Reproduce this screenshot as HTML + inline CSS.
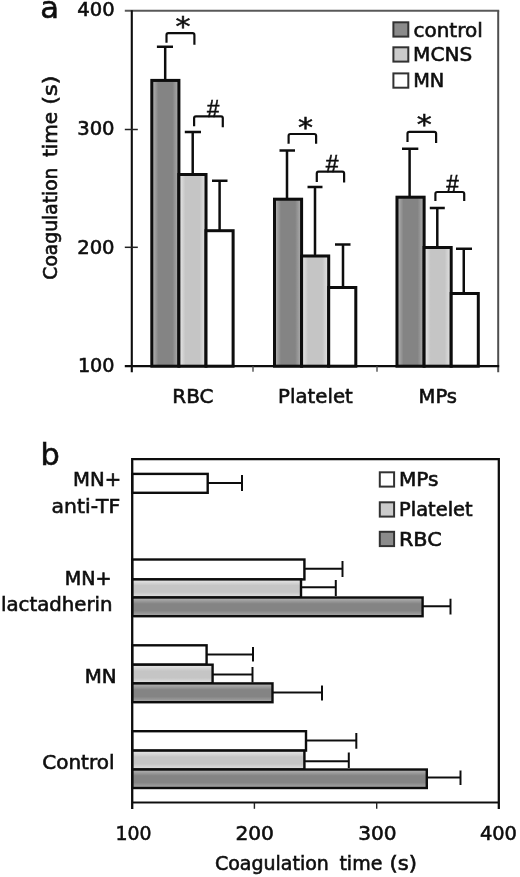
<!DOCTYPE html>
<html lang="en"><head><meta charset="utf-8"><title>Coagulation time</title>
<style>html,body{margin:0;padding:0;background:#fff;}body{width:520px;height:877px;overflow:hidden;}svg{display:block;}text{font-family:"DejaVu Sans", "Liberation Sans", sans-serif;fill:#111;stroke:#111;stroke-width:0.6px;}</style></head><body>
<svg width="520" height="877" viewBox="0 0 520 877">
<defs><linearGradient id="gdh" x1="0" y1="0" x2="1" y2="0"><stop offset="0.05" stop-color="#adadad"/><stop offset="0.24" stop-color="#848484"/><stop offset="0.76" stop-color="#848484"/><stop offset="0.95" stop-color="#a8a8a8"/></linearGradient><linearGradient id="glh" x1="0" y1="0" x2="1" y2="0"><stop offset="0.05" stop-color="#e2e2e2"/><stop offset="0.24" stop-color="#c5c5c5"/><stop offset="0.76" stop-color="#c5c5c5"/><stop offset="0.95" stop-color="#dfdfdf"/></linearGradient><linearGradient id="gdv" x1="0" y1="0" x2="0" y2="1"><stop offset="0.07" stop-color="#adadad"/><stop offset="0.34" stop-color="#848484"/><stop offset="0.7" stop-color="#848484"/><stop offset="0.93" stop-color="#a0a0a0"/></linearGradient><linearGradient id="glv" x1="0" y1="0" x2="0" y2="1"><stop offset="0.07" stop-color="#e2e2e2"/><stop offset="0.34" stop-color="#c5c5c5"/><stop offset="0.7" stop-color="#c5c5c5"/><stop offset="0.93" stop-color="#dcdcdc"/></linearGradient></defs>
<defs><filter id="soft" x="0" y="0" width="520" height="877" filterUnits="userSpaceOnUse"><feGaussianBlur stdDeviation="0.5"/></filter></defs>
<rect x="0" y="0" width="520" height="877" fill="#fff"/>
<g filter="url(#soft)">
<g id="panel-a">
<line x1="124.80000000000001" y1="10.8" x2="499.2" y2="10.8" stroke="#585858" stroke-width="2"/>
<line x1="498.2" y1="10.8" x2="498.2" y2="372.2" stroke="#505050" stroke-width="2"/>
<path d="M165.2 80.4V46.8M156.9 46.8H173" stroke="#111" stroke-width="2.5" fill="none"/>
<path d="M192.7 174.5V132.1M184.8 132.1H201" stroke="#111" stroke-width="2.5" fill="none"/>
<path d="M219.6 230.7V180.8M212 180.8H227.5" stroke="#111" stroke-width="2.5" fill="none"/>
<rect x="151.8" y="80.4" width="27.1" height="285.79999999999995" fill="url(#gdh)" stroke="#0a0a0a" stroke-width="3"/>
<rect x="178.9" y="174.5" width="27.1" height="191.7" fill="url(#glh)" stroke="#0a0a0a" stroke-width="3"/>
<rect x="206.0" y="230.7" width="27.1" height="135.5" fill="#ffffff" stroke="#0a0a0a" stroke-width="3"/>
<path d="M287 199.2V150.5M279.5 150.5H295" stroke="#111" stroke-width="2.5" fill="none"/>
<path d="M315 256V187M307.5 187H322.5" stroke="#111" stroke-width="2.5" fill="none"/>
<path d="M343 287.5V244.5M335 244.5H350.5" stroke="#111" stroke-width="2.5" fill="none"/>
<rect x="274.5" y="199.2" width="27.1" height="167.0" fill="url(#gdh)" stroke="#0a0a0a" stroke-width="3"/>
<rect x="301.6" y="256" width="27.1" height="110.19999999999999" fill="url(#glh)" stroke="#0a0a0a" stroke-width="3"/>
<rect x="328.7" y="287.5" width="27.1" height="78.69999999999999" fill="#ffffff" stroke="#0a0a0a" stroke-width="3"/>
<path d="M409.6 197.2V148.7M402 148.7H418.3" stroke="#111" stroke-width="2.5" fill="none"/>
<path d="M437.3 247.5V208.1M429.8 208.1H444.8" stroke="#111" stroke-width="2.5" fill="none"/>
<path d="M463.75 293.5V248.75M456 248.75H472" stroke="#111" stroke-width="2.5" fill="none"/>
<rect x="397.0" y="197.2" width="27.1" height="169.0" fill="url(#gdh)" stroke="#0a0a0a" stroke-width="3"/>
<rect x="424.1" y="247.5" width="27.1" height="118.69999999999999" fill="url(#glh)" stroke="#0a0a0a" stroke-width="3"/>
<rect x="451.2" y="293.5" width="27.1" height="72.69999999999999" fill="#ffffff" stroke="#0a0a0a" stroke-width="3"/>
<line x1="131.8" y1="10.3" x2="131.8" y2="372.2" stroke="#111" stroke-width="2.1"/>
<line x1="124.80000000000001" y1="366.2" x2="499.2" y2="366.2" stroke="#111" stroke-width="2.2"/>
<line x1="124.80000000000001" y1="129.5" x2="137.8" y2="129.5" stroke="#222" stroke-width="1.5"/>
<line x1="124.80000000000001" y1="247.3" x2="137.8" y2="247.3" stroke="#222" stroke-width="1.5"/>
<line x1="253" y1="366.2" x2="253" y2="371.7" stroke="#505050" stroke-width="1.4"/>
<line x1="377" y1="366.2" x2="377" y2="371.7" stroke="#505050" stroke-width="1.4"/>
<path d="M166.5 42.8V35.0Q166.5 33.2 168.3 33.2H192.6Q194.4 33.2 194.4 35.0V44.7" stroke="#111" stroke-width="2.2" fill="none"/>
<path d="M194.1 126.2V118.1Q194.1 116.3 195.9 116.3H221.0Q222.8 116.3 222.8 118.1V127.3" stroke="#111" stroke-width="2.2" fill="none"/>
<path d="M288.6 143.8V135.8Q288.6 134 290.40000000000003 134H314.3Q316.1 134 316.1 135.8V143.8" stroke="#111" stroke-width="2.2" fill="none"/>
<path d="M316.8 182V173.4Q316.8 171.6 318.6 171.6H342.3Q344.1 171.6 344.1 173.4V182.5" stroke="#111" stroke-width="2.2" fill="none"/>
<path d="M407.5 142V133.60000000000002Q407.5 131.8 409.3 131.8H434.3Q436.1 131.8 436.1 133.60000000000002V143" stroke="#111" stroke-width="2.2" fill="none"/>
<path d="M435.4 201V193.8Q435.4 192 437.2 192H462.4Q464.2 192 464.2 193.8V201" stroke="#111" stroke-width="2.2" fill="none"/>
<text transform="translate(183 35.6) scale(1 0.87)" font-size="30" text-anchor="middle" stroke-width="1">*</text>
<text transform="translate(305.6 136.8) scale(1 0.87)" font-size="30" text-anchor="middle" stroke-width="1">*</text>
<text transform="translate(424.2 134.1) scale(1 0.87)" font-size="30" text-anchor="middle" stroke-width="1">*</text>
<text transform="translate(207.00 116.60) scale(0.9226 1)" font-size="24" style="font-family:'Liberation Sans',sans-serif" stroke-width="0.7">#</text>
<text transform="translate(325.70 172.10) scale(0.9524 1)" font-size="24" style="font-family:'Liberation Sans',sans-serif" stroke-width="0.7">#</text>
<text transform="translate(446.20 191.60) scale(0.9375 1)" font-size="24" style="font-family:'Liberation Sans',sans-serif" stroke-width="0.7">#</text>
<text transform="translate(77.32 16.30) scale(1.0171 1)" font-size="19.2">400</text>
<text transform="translate(77.23 135.20) scale(1.0197 1)" font-size="19.2">300</text>
<text transform="translate(77.23 254.30) scale(1.0197 1)" font-size="19.2">200</text>
<text transform="translate(77.88 372.00) scale(1.0013 1)" font-size="19.2">100</text>
<text transform="translate(40.36 17.70) scale(1.0213 1)" font-size="30" stroke-width="0.9">a</text>
<text transform="translate(56.70 279.63) rotate(-90) scale(0.9735 1)" font-size="19.2">Coagulation</text>
<text transform="translate(56.70 157.10) rotate(-90) scale(1.0445 1)" font-size="19.2">time</text>
<text transform="translate(56.70 104.69) rotate(-90) scale(1.1684 1)" font-size="19.2">(s)</text>
<text transform="translate(172.31 403.20) scale(1.0372 1)" font-size="19.2">RBC</text>
<text transform="translate(278.12 403.20) scale(1.0278 1)" font-size="19.2">Platelet</text>
<text transform="translate(418.54 403.20) scale(1.0172 1)" font-size="19.2">MPs</text>
<rect x="393.4" y="22.3" width="14.9" height="14.3" fill="#8b8b8b" stroke="#333" stroke-width="2"/>
<rect x="393.4" y="47.3" width="14.9" height="14.3" fill="#cbcbcb" stroke="#333" stroke-width="2"/>
<rect x="393.4" y="73.4" width="14.9" height="14.3" fill="#ffffff" stroke="#333" stroke-width="2"/>
<text transform="translate(413.50 36.50) scale(1.0406 1)" font-size="19.2">control</text>
<text transform="translate(413.10 61.40) scale(1.0439 1)" font-size="19.2">MCNS</text>
<text transform="translate(413.16 86.60) scale(1.0067 1)" font-size="19.2">MN</text>
</g>
<g id="panel-b">
<path d="M207.7 483H242M242 475V491" stroke="#111" stroke-width="2" fill="none"/>
<rect x="132.2" y="473.9" width="75.5" height="18.900000000000034" fill="#ffffff" stroke="#0a0a0a" stroke-width="2.4"/>
<path d="M304.4 568.8H342.5M342.5 561V577" stroke="#111" stroke-width="2" fill="none"/>
<path d="M301 587.3H335.8M335.8 580V596" stroke="#111" stroke-width="2" fill="none"/>
<path d="M422.6 606.3H450.5M450.5 598.8V614.5" stroke="#111" stroke-width="2" fill="none"/>
<rect x="132.2" y="559.5" width="172.2" height="19.899999999999977" fill="#ffffff" stroke="#0a0a0a" stroke-width="2.4"/>
<rect x="132.2" y="579.4" width="168.8" height="18.100000000000023" fill="url(#glv)" stroke="#0a0a0a" stroke-width="2.4"/>
<rect x="132.2" y="597.5" width="290.40000000000003" height="18.700000000000045" fill="url(#gdv)" stroke="#0a0a0a" stroke-width="2.4"/>
<path d="M206.6 654.5H253M253 647V661.5" stroke="#111" stroke-width="2" fill="none"/>
<path d="M212.6 674.5H252.5M252.5 667V682.5" stroke="#111" stroke-width="2" fill="none"/>
<path d="M272.5 692.5H322M322 685.5V700.5" stroke="#111" stroke-width="2" fill="none"/>
<rect x="132.2" y="645.3" width="74.4" height="19.40000000000009" fill="#ffffff" stroke="#0a0a0a" stroke-width="2.4"/>
<rect x="132.2" y="664.7" width="80.4" height="18.699999999999932" fill="url(#glv)" stroke="#0a0a0a" stroke-width="2.4"/>
<rect x="132.2" y="683.4" width="140.3" height="18.800000000000068" fill="url(#gdv)" stroke="#0a0a0a" stroke-width="2.4"/>
<path d="M306 740.5H356.3M356.3 733V748.8" stroke="#111" stroke-width="2" fill="none"/>
<path d="M304.4 761.3H348.8M348.8 752.5V768" stroke="#111" stroke-width="2" fill="none"/>
<path d="M426.8 777.5H460.5M460.5 770.5V785" stroke="#111" stroke-width="2" fill="none"/>
<rect x="132.2" y="731.2" width="173.8" height="19.399999999999977" fill="#ffffff" stroke="#0a0a0a" stroke-width="2.4"/>
<rect x="132.2" y="750.6" width="172.2" height="18.899999999999977" fill="url(#glv)" stroke="#0a0a0a" stroke-width="2.4"/>
<rect x="132.2" y="769.5" width="294.6" height="18.5" fill="url(#gdv)" stroke="#0a0a0a" stroke-width="2.4"/>
<path d="M132.2 809.0V459.2H498.8V809.0" stroke="#111" stroke-width="2.3" fill="none"/>
<line x1="132.2" y1="802.5" x2="498.8" y2="802.5" stroke="#111" stroke-width="2.2"/>
<line x1="254.4" y1="802.5" x2="254.4" y2="808.8" stroke="#222" stroke-width="1.4"/>
<line x1="376.7" y1="802.5" x2="376.7" y2="808.8" stroke="#222" stroke-width="1.4"/>
<text transform="translate(115.41 839.80) scale(0.9834 1)" font-size="19.2">100</text>
<text transform="translate(235.39 839.80) scale(1.0520 1)" font-size="19.2">200</text>
<text transform="translate(358.19 839.80) scale(1.0490 1)" font-size="19.2">300</text>
<text transform="translate(479.92 839.80) scale(1.0113 1)" font-size="19.2">400</text>
<text transform="translate(214.95 870.10) scale(0.9904 1)" font-size="19.2">Coagulation</text>
<text transform="translate(339.42 870.10) scale(0.9899 1)" font-size="19.2">time</text>
<text transform="translate(389.61 870.10) scale(1.1000 1)" font-size="19.2">(s)</text>
<text transform="translate(40.57 465.00) scale(1.0271 1)" font-size="29.5" stroke-width="0.9">b</text>
<text transform="translate(73.03 486.30) scale(1.0558 1)" font-size="18.6">MN+</text>
<text transform="translate(51.58 512.50) scale(1.0963 1)" font-size="18.6">anti-TF</text>
<text transform="translate(64.83 585.00) scale(1.0261 1)" font-size="18.6">MN+</text>
<text transform="translate(1.02 611.30) scale(1.0614 1)" font-size="18.6">lactadherin</text>
<text transform="translate(84.77 683.00) scale(1.0637 1)" font-size="18.6">MN</text>
<text transform="translate(42.30 768.80) scale(1.0731 1)" font-size="18.6">Control</text>
<rect x="379.8" y="472.3" width="14.3" height="14.3" fill="#ffffff" stroke="#333" stroke-width="2"/>
<rect x="379.8" y="502.3" width="14.3" height="14.3" fill="#cbcbcb" stroke="#333" stroke-width="2"/>
<rect x="379.8" y="531.8" width="14.3" height="14.3" fill="#8b8b8b" stroke="#333" stroke-width="2"/>
<text transform="translate(398.99 485.60) scale(1.0792 1)" font-size="18.6">MPs</text>
<text transform="translate(399.05 515.60) scale(1.0448 1)" font-size="18.6">Platelet</text>
<text transform="translate(398.93 546.30) scale(1.1154 1)" font-size="18.6">RBC</text>
</g>
</g></svg></body></html>
